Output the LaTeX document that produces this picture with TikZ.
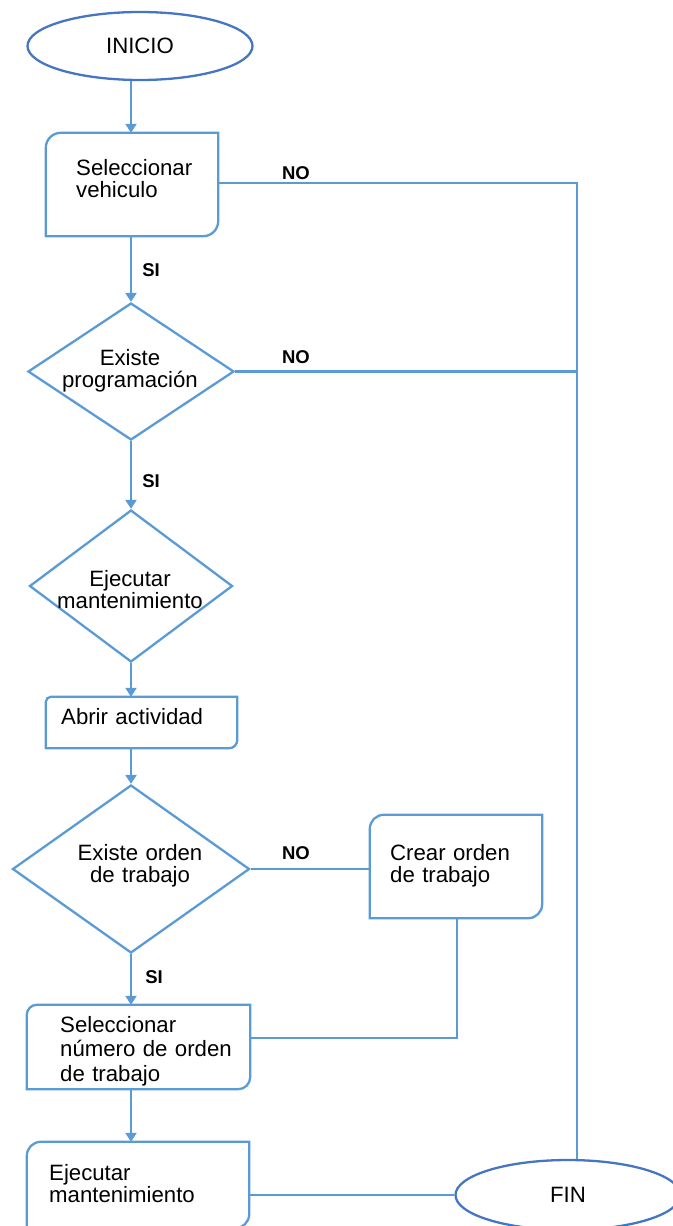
\documentclass[tikz,border=0pt]{standalone}
\usepackage{fontspec}
\setmainfont{Liberation Sans}
\usetikzlibrary{shapes.geometric,arrows.meta}

\definecolor{flowblue}{HTML}{5B9BD5}
\definecolor{termblue}{HTML}{4676C1}

\tikzset{
  flowline/.style={draw=flowblue, line width=2.3pt},
  arrow/.style={flowline, -{Triangle[width=11pt,length=9pt]}},
  terminal/.style={ellipse, draw=termblue, line width=2.3pt, inner sep=0pt,
    font=\fontsize{22.2}{22.5}\selectfont},
  decision/.style={diamond, flowline, inner sep=0pt},
  frame/.style={rectangle, draw=none, inner sep=0pt},
  lefttext/.style={anchor=base west, inner sep=0pt, text width=200pt, align=left,
    font=\fontsize{22.2}{22.5}\selectfont},
  midtext/.style={anchor=base, inner sep=0pt, text width=220pt, align=center,
    font=\fontsize{22.2}{22.5}\selectfont},
  answer/.style={inner sep=0pt, font=\bfseries\fontsize{18.5}{18.5}\selectfont}
}

% rectangle outline with a rounded top-left corner (radius #2)
% and a rounded bottom-right corner (radius #3)
\newcommand\cardoutline[3]{%
  \draw[flowline] (#1.south west)
    -- ([yshift=-#2pt]#1.north west)
    .. controls ([yshift=-0.448*#2pt]#1.north west) and ([xshift=0.448*#2pt]#1.north west)
    .. ([xshift=#2pt]#1.north west)
    -- (#1.north east)
    -- ([yshift=#3pt]#1.south east)
    .. controls ([yshift=0.448*#3pt]#1.south east) and ([xshift=-0.448*#3pt]#1.south east)
    .. ([xshift=-#3pt]#1.south east)
    -- cycle;}

\begin{document}
\begin{tikzpicture}[x=1pt, y=-1pt]
\useasboundingbox (0,0) rectangle (672,1226);

% terminals
\node[terminal, minimum width=225pt, minimum height=68pt] (ini) at (140,46) {INICIO};
\node[terminal, minimum width=225pt, minimum height=70pt] (fin) at (568,1195) {FIN};

% process boxes
\node[frame, minimum width=172pt, minimum height=103pt] (b1) at (132,184.5) {};
\node[frame, minimum width=191pt, minimum height=51pt]  (b2) at (141.5,722.5) {};
\node[frame, minimum width=172pt, minimum height=103pt] (b3) at (456,866.5) {};
\node[frame, minimum width=223pt, minimum height=84pt]  (b4) at (138.5,1047) {};
\node[frame, minimum width=222pt, minimum height=86pt]  (b5) at (138,1185) {};
\cardoutline{b1}{15}{15}
\cardoutline{b2}{5}{8}
\cardoutline{b3}{14}{14}
\cardoutline{b4}{10}{12}
\cardoutline{b5}{14}{14}

% decisions
\node[decision, minimum width=206pt, minimum height=137pt] (d1) at (131,371.5) {};
\node[decision, minimum width=203pt, minimum height=152pt] (d2) at (131,586) {};
\node[decision, minimum width=237pt, minimum height=168pt] (d3) at (131,869) {};

% texts
\node[lefttext] (t1) at (76,175) {Seleccionar\\vehiculo};
\node[midtext]  (t2) at (130,365) {Existe\\programación};
\node[midtext]  (t3) at (130,586) {Ejecutar\\mantenimiento};
\node[lefttext] (t4) at (61,724) {Abrir actividad};
\node[midtext]  (t5) at (140,860) {Existe orden\\de trabajo};
\node[lefttext] (t6) at (390,860) {Crear orden\\de trabajo};
\node[lefttext, font=\fontsize{22.2}{24.5}\selectfont] (t7) at (60,1032)
  {Seleccionar\\número de orden\\de trabajo};
\node[lefttext] (t8) at (49,1180) {Ejecutar\\mantenimiento};

% main column
\coordinate (col) at (131,0);
\draw[arrow] (ini.south -| col) -- (b1.north -| col);
\draw[arrow] (b1.south -| col) -- (d1.north);
\draw[arrow] (d1.south) -- (d2.north);
\draw[arrow] (d2.south) -- (b2.north -| col);
\draw[arrow] (b2.south -| col) -- (d3.north);
\draw[arrow] (d3.south) -- (b4.north -| col);
\draw[arrow] (b4.south -| col) -- (b5.north -| col);

% "NO" branches to the end
\coordinate (rail) at (577,183);
\draw[flowline] (b1.east |- rail) -- (rail) -- (fin.north -| rail);
\draw[flowline] (d1.east) -- (d1.east -| rail);

% work order branch
\coordinate (join) at (457,1038);
\draw[flowline] (d3.east) -- (d3.east -| b3.west);
\draw[flowline] (b3.south -| join) -- (join) -- (join -| b4.east);

% last step to the end
\draw[flowline] (fin.west -| b5.east) -- (fin.west);

% answers
\node[answer] (si1) at (151,270) {SI};
\node[answer] (si2) at (151,481) {SI};
\node[answer] (si3) at (154,977) {SI};
\node[answer] (no1) at (296,173) {NO};
\node[answer] (no2) at (296,357) {NO};
\node[answer] (no3) at (296,853) {NO};
\end{tikzpicture}
\end{document}
